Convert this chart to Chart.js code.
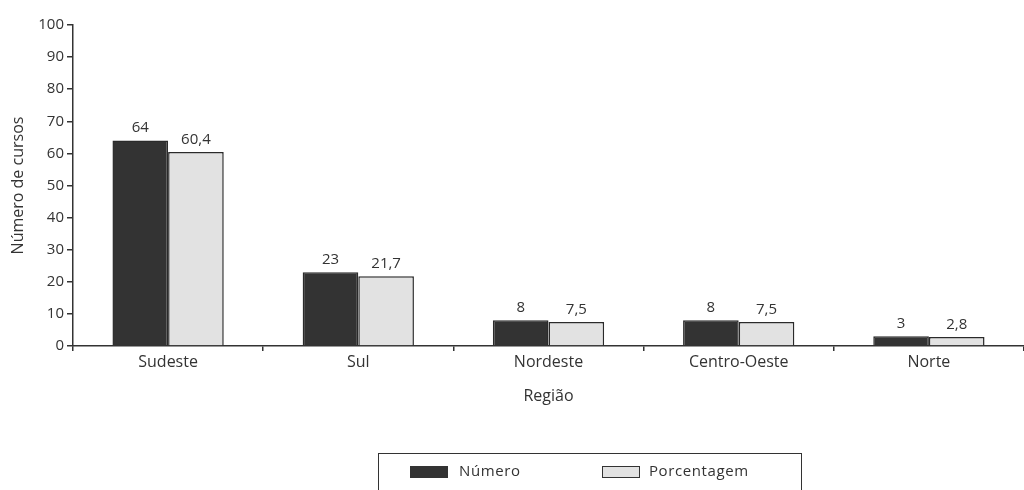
<!DOCTYPE html>
<html>
<head>
<meta charset="utf-8">
<script src="https://cdn.jsdelivr.net/npm/chart.js@4.4.1/dist/chart.umd.min.js"></script>
<style>
  html, body { margin: 0; padding: 0; background: #fff; }
  #wrap { position: relative; width: 1024px; height: 490px; }
  #legend {
    position: absolute; left: 378px; top: 453px; width: 424px; height: 50px;
    border: 1.5px solid #333; box-sizing: border-box;
    font-family: "Open Sans", sans-serif; font-size: 15px; color: #333;
  }
  .sw { position: absolute; top: 12px; width: 38px; height: 12px; box-sizing: border-box; }
  .lbl { position: absolute; top: 6px; letter-spacing: 0.6px; }
</style>
</head>
<body>
<div id="wrap">
  <canvas id="chart" width="1024" height="490"></canvas>
  <div id="legend">
    <div class="sw" style="left:31px;background:#333;"></div>
    <div class="lbl" style="left:80px;">Número</div>
    <div class="sw" style="left:223px;background:#e2e2e2;border:1.5px solid #333;"></div>
    <div class="lbl" style="left:270px;">Porcentagem</div>
  </div>
</div>
<script>
const regioes = ["Sudeste", "Sul", "Nordeste", "Centro-Oeste", "Norte"];
const numero = [64, 23, 8, 8, 3];
const porcentagem = [60.4, 21.7, 7.5, 7.5, 2.8];

const FONT = "Open Sans";

// valores acima das barras, com virgula decimal
const valueLabels = {
    id: "valueLabels",
    afterDatasetsDraw(chart) {
        const ctx = chart.ctx;
        ctx.save();
        ctx.font = "15px '" + FONT + "'";
        ctx.fillStyle = "#333";
        ctx.textAlign = "center";
        ctx.textBaseline = "bottom";
        chart.data.datasets.forEach((ds, i) => {
            chart.getDatasetMeta(i).data.forEach((bar, j) => {
                let txt = String(ds.data[j]).replace(".", ",");
                ctx.fillText(txt, bar.x, bar.y - 5);
            });
        });
        ctx.restore();
    }
};

const ctx = document.getElementById("chart");
new Chart(ctx, {
    type: "bar",
    data: {
        labels: regioes,
        datasets: [{
            label: "Número",
            data: numero,
            backgroundColor: "#333333",
            borderColor: "#2a2a2a",
            borderWidth: 1.5,
            categoryPercentage: 0.585,
            barPercentage: 1
        }, {
            label: "Porcentagem",
            data: porcentagem,
            backgroundColor: "#e2e2e2",
            borderColor: "#2a2a2a",
            borderWidth: 1.5,
            categoryPercentage: 0.585,
            barPercentage: 1
        }]
    },
    options: {
        responsive: false,
        animation: false,
        layout: { padding: { top: 25, right: 0, bottom: 80, left: 0 } },
        plugins: {
            legend: { display: false },
            tooltip: { enabled: false }
        },
        scales: {
            x: {
                grid: { drawOnChartArea: false, drawTicks: true, tickLength: 5, color: "#333", lineWidth: 1.5 },
                border: { color: "#333", width: 1.5 },
                ticks: { color: "#333", font: { family: FONT, size: 16 }, padding: 2 },
                title: { display: true, text: "Região", color: "#333", font: { family: FONT, size: 16 }, padding: { top: 11 } },
                afterFit: (s) => { s.height = 64; }
            },
            y: {
                min: 0,
                max: 100,
                grid: { drawOnChartArea: false, drawTicks: true, tickLength: 6, color: "#333", lineWidth: 1.5 },
                border: { color: "#333", width: 1.5 },
                ticks: { stepSize: 10, color: "#333", font: { family: FONT, size: 15 }, padding: 3 },
                title: { display: true, text: "Número de cursos", color: "#333", font: { family: FONT, size: 16 }, padding: { top: 9, bottom: 0 } },
                afterFit: (s) => { s.width = 73; }
            }
        }
    },
    plugins: [valueLabels]
});
</script>
</body>
</html>
